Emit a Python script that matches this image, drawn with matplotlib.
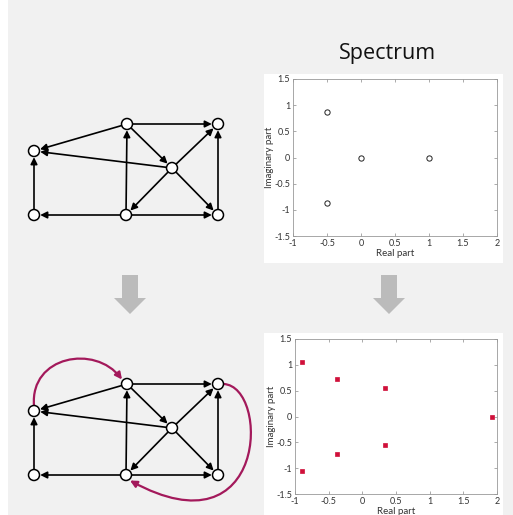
import numpy as np
import matplotlib
matplotlib.use('Agg')
import matplotlib.pyplot as plt
from matplotlib.patches import Rectangle, Circle, FancyArrowPatch, Polygon
from matplotlib.path import Path

plt.rcParams['font.family'] = ['Lato', 'DejaVu Sans']

# directed graph: nodes and edges
nodes = ['A', 'B', 'C', 'D', 'E', 'F', 'G']
edges = [('B', 'A'), ('B', 'C'), ('B', 'D'), ('D', 'A'), ('D', 'C'), ('D', 'F'),
         ('D', 'G'), ('F', 'B'), ('F', 'E'), ('F', 'G'), ('E', 'A'), ('G', 'C')]
# edges added in the perturbed graph
extra_edges = [('A', 'B'), ('C', 'F')]

# eigenvalues of the adjacency matrices
eig_re_before = [-0.5, -0.5, 0.0, 1.0]
eig_im_before = [0.866, -0.866, 0.0, 0.0]
eig_re_after = [-0.90, -0.90, -0.37, -0.37, 0.33, 0.33, 1.92]
eig_im_after = [1.05, -1.05, 0.73, -0.73, 0.56, -0.56, 0.0]

xticks = [-1, -0.5, 0, 0.5, 1, 1.5, 2]
yticks = [-1.5, -1, -0.5, 0, 0.5, 1, 1.5]

# node layout in pixels (top graph), bottom graph is shifted down
layout = {'A': (34, 151), 'B': (127, 124), 'C': (218, 124), 'D': (172, 168),
          'E': (34, 215), 'F': (126, 215), 'G': (218, 215)}
shift = 260
R = 5.5
W, H = 513, 515
MAGENTA = '#a3195b'

fig = plt.figure(figsize=(W / 100, H / 100), dpi=100)
fig.patch.set_facecolor('white')
ax0 = fig.add_axes([0, 0, 1, 1])
ax0.set_xlim(0, W)
ax0.set_ylim(H, 0)
ax0.axis('off')

ax0.add_patch(Rectangle((8, 0), W - 8, H, fc='#f1f1f1', ec='none', zorder=0))
# white panels behind the spectra
ax0.add_patch(Rectangle((264, 74), 239, 189, fc='white', ec='none', zorder=1))
ax0.add_patch(Rectangle((264, 333), 239, 190, fc='white', ec='none', zorder=1))


def draw_graph(dy):
    pos = {k: (x, y + dy) for k, (x, y) in layout.items()}
    for a, b in edges:
        ax0.add_patch(FancyArrowPatch(pos[a], pos[b], arrowstyle='-|>', mutation_scale=10,
                                      shrinkA=R * 0.72, shrinkB=R * 0.72 + 0.5,
                                      lw=1.2, color='black', zorder=3))
    for k in nodes:
        ax0.add_patch(Circle(pos[k], R, fc='white', ec='black', lw=1.1, zorder=4))
    return pos


draw_graph(0)
pos = draw_graph(shift)

# extra edges drawn as curved magenta arrows
xa, ya = pos['A']
xb, yb = pos['B']
p1 = Path([(xa, ya - R), (xa - 4, ya - 55), (xb - 32, yb - 40), (xb - 5, yb - R + 1)],
          [Path.MOVETO, Path.CURVE4, Path.CURVE4, Path.CURVE4])
xc, yc = pos['C']
xf, yf = pos['F']
p2 = Path([(xc + R, yc), (xc + 52, yc + 2), (xc + 50, yc + 172), (xf + 4, yf + R)],
          [Path.MOVETO, Path.CURVE4, Path.CURVE4, Path.CURVE4])
for p in (p1, p2):
    ax0.add_patch(FancyArrowPatch(path=p, arrowstyle='-|>', mutation_scale=10,
                                  lw=1.6, color=MAGENTA, zorder=2))

# big grey arrows between rows
for cx in (130, 389):
    ax0.add_patch(Polygon([(cx - 8, 275), (cx + 8, 275), (cx + 8, 298), (cx + 16, 298),
                           (cx, 314), (cx - 16, 298), (cx - 8, 298)],
                          closed=True, fc='#bbbbbb', ec='none', zorder=2))

ax0.text(387, 53, 'Spectrum', ha='center', va='center', fontsize=15.5, color='#111111',
         family=['Open Sans', 'DejaVu Sans'])


def frac(l, t, r, b):
    return [l / W, 1 - b / H, (r - l) / W, (b - t) / H]


def spectrum_axes(box, re, im, **kw):
    ax = fig.add_axes(frac(*box))
    ax.plot(re, im, ls='none', **kw)
    ax.set_xlim(-1, 2)
    ax.set_ylim(-1.5, 1.5)
    ax.set_xticks(xticks)
    ax.set_yticks(yticks)
    ax.set_xticklabels([f'{v:g}' for v in xticks])
    ax.set_yticklabels([f'{v:g}' for v in yticks])
    ax.tick_params(direction='in', length=2, width=0.5, color='#888888', labelsize=6.5,
                   labelcolor='#333333', top=True, right=True, pad=2)
    for s in ax.spines.values():
        s.set_color('#999999')
        s.set_linewidth(0.6)
    ax.set_xlabel('Real part', fontsize=7, color='#333333', labelpad=1)
    ax.set_ylabel('Imaginary part', fontsize=7, color='#333333', labelpad=0)
    return ax


spectrum_axes((293, 79, 497, 236), eig_re_before, eig_im_before,
              marker='o', ms=3.8, mfc='none', mec='#222222', mew=0.7)
spectrum_axes((295, 339, 497, 494), eig_re_after, eig_im_after,
              marker='s', ms=3.5, mfc='#d0103a', mec='#d0103a', mew=0.5)

fig.savefig('out.png', dpi=100, facecolor='white')
